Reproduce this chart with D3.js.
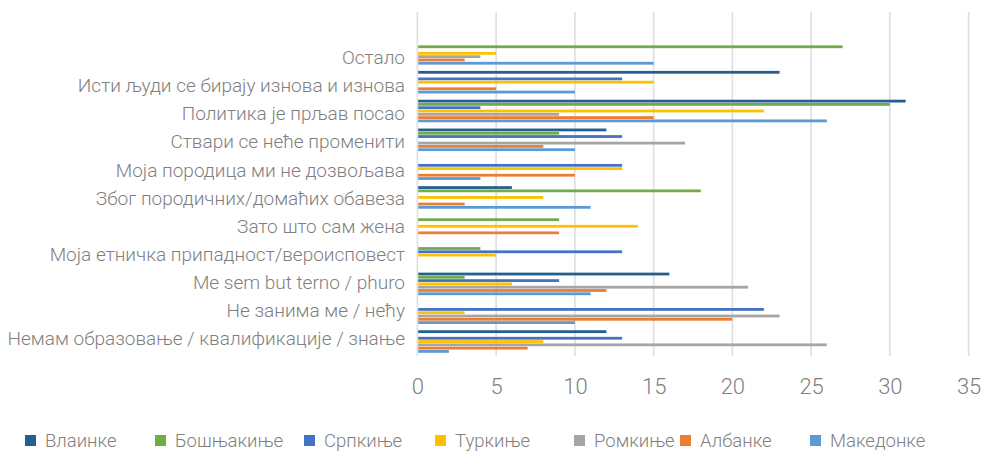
<!DOCTYPE html>
<html><head><meta charset="utf-8">
<script src="https://cdn.jsdelivr.net/npm/d3@7"></script>
<style>
html,body{margin:0;padding:0;background:#fff;}
svg{display:block;}
text{font-family:Roboto,"Open Sans",sans-serif;font-weight:300;fill:#7f7f7f;}
</style></head>
<body>
<script>
// ---- data ----
const categories = [
  "Остало",
  "Исти људи се бирају изнова и изнова",
  "Политика је прљав посао",
  "Ствари се неће променити",
  "Моја породица ми не дозвољава",
  "Због породичних/домаћих обавеза",
  "Зато што сам жена",
  "Моја етничка припадност/вероисповест",
  "Me sem but terno / phuro",
  "Не занима ме / нећу",
  "Немам образовање / квалификације / знање"
];
const seriesNames = ["Влаинке","Бошњакиње","Српкиње","Туркиње","Ромкиње","Албанке","Македонке"];
const vlainke    = [0, 23, 31, 12, 0, 6, 0, 0, 16, 0, 12];
const bosnjakinje= [27, 0, 30, 9, 0, 18, 9, 4, 3, 0, 0];
const srpkinje   = [0, 13, 4, 13, 13, 0, 0, 13, 9, 22, 13];
const turkinje   = [5, 15, 22, 0, 13, 8, 14, 5, 6, 3, 8];
const romkinje   = [4, 0, 9, 17, 0, 0, 0, 0, 21, 23, 26];
const albanke    = [3, 5, 15, 8, 10, 3, 9, 0, 12, 20, 7];
const makedonke  = [15, 10, 26, 10, 4, 11, 0, 0, 11, 10, 2];
const seriesValues = [vlainke, bosnjakinje, srpkinje, turkinje, romkinje, albanke, makedonke];
const colors = ["#255e91","#70ad47","#4472c4","#ffc000","#a5a5a5","#ed7d31","#5b9bd5"];
const xTicks = [0,5,10,15,20,25,30,35];

// ---- layout ----
const W = 983, H = 452;
const svg = d3.select("body").append("svg").attr("width", W).attr("height", H);

const x = d3.scaleLinear().domain([0, 35]).range([417.4, 968.6]);
const y = d3.scaleBand().domain(categories).range([39, 356]).paddingInner(0.2).paddingOuter(0.1);
const ys = d3.scaleBand().domain(seriesNames).range([0, y.bandwidth()]);
const yLabel = d3.scalePoint().domain(categories).range([57.5, 338.5]);

// gridlines
svg.append("g").selectAll("line").data(xTicks).join("line")
  .attr("x1", d => x(d)).attr("x2", d => x(d))
  .attr("y1", 12).attr("y2", 356)
  .attr("stroke", "#dedede").attr("stroke-width", 1.6);

// bars
const flat = [];
categories.forEach((c, i) => seriesNames.forEach((s, j) => flat.push({c, s, v: seriesValues[j][i], j})));
svg.append("g").selectAll("rect").data(flat.filter(d => d.v > 0)).join("rect")
  .attr("x", x(0) + 0.8)
  .attr("y", d => y(d.c) + ys(d.s) + 0.2)
  .attr("width", d => x(d.v) - x(0) - 0.8)
  .attr("height", ys.bandwidth() - 0.5)
  .attr("fill", d => colors[d.j]);

// category labels
svg.append("g").selectAll("text").data(categories).join("text")
  .attr("x", 405)
  .attr("y", d => yLabel(d))
  .attr("dy", "0.35em")
  .attr("text-anchor", "end")
  .attr("font-size", 19)
  .text(d => d);

// x tick labels
const xAxis = d3.axisBottom(x).tickValues(xTicks).tickSize(0).tickPadding(0);
const gx = svg.append("g").attr("transform", "translate(0,378)").call(xAxis);
gx.select(".domain").remove();
gx.selectAll("text").attr("font-size", 22).attr("font-family", null).attr("fill", null).attr("dy", "0.71em");

// legend
const legendX = [25, 155, 304, 435, 574, 680, 810];
const lg = svg.append("g").selectAll("g").data(seriesNames).join("g")
  .attr("transform", (d, i) => `translate(${legendX[i]},441)`);
lg.append("rect").attr("x", 0).attr("y", -6).attr("width", 11).attr("height", 11)
  .attr("fill", (d, i) => colors[i]);
lg.append("text").attr("x", 20).attr("y", 0).attr("dy", "0.35em").attr("font-size", 18.5).text(d => d);
</script>
</body></html>
